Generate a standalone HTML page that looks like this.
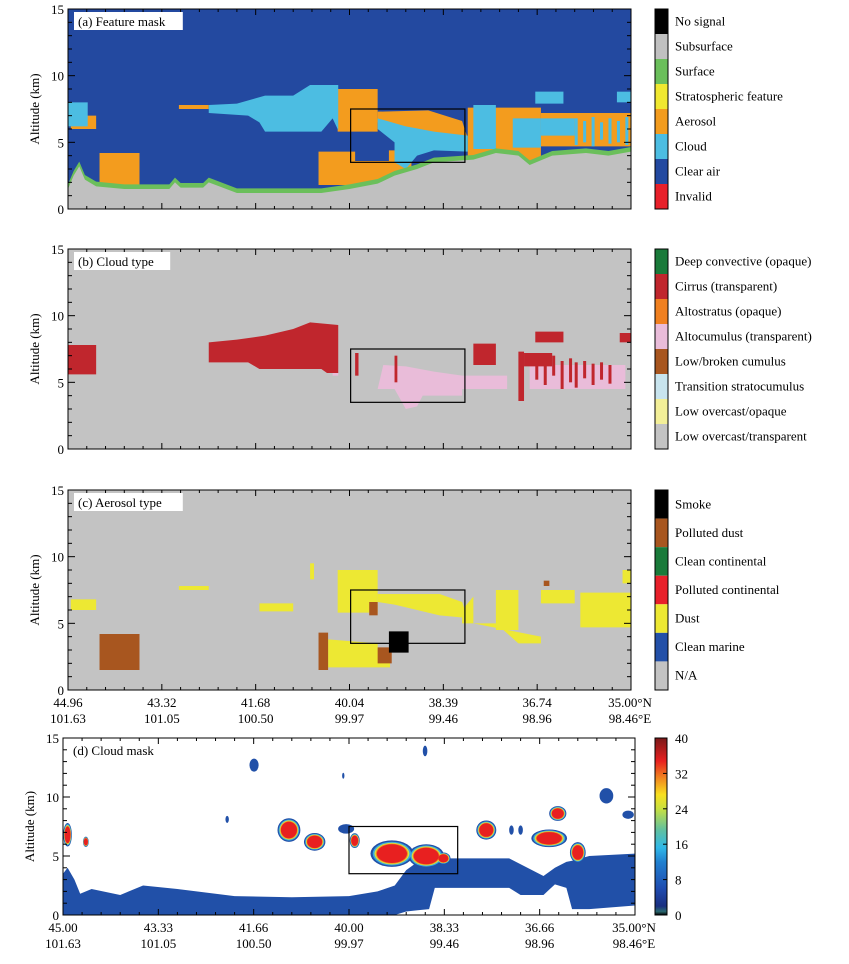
<!DOCTYPE html>
<html><head><meta charset="utf-8"><style>
body{margin:0;background:#fff;}
svg text{font-family:"Liberation Serif",serif;fill:#000;}
</style></head><body>
<svg id="fig" width="849" height="959" viewBox="0 0 849 959" xmlns="http://www.w3.org/2000/svg"></svg>
<script>
// ---------- data ----------
const altTicks = [0,5,10,15];
const latLabelsC = ["44.96","43.32","41.68","40.04","38.39","36.74","35.00°N"];
const lonLabels = ["101.63","101.05","100.50","99.97","99.46","98.96","98.46°E"];
const latLabelsD = ["45.00","43.33","41.66","40.00","38.33","36.66","35.00°N"];
// surface elevation (track fraction, km)
const surfX = [0,.01,.02,.03,.05,.1,.18,.19,.2,.24,.25,.3,.4,.45,.5,.55,.58,.62,.65,.72,.76,.8,.82,.86,.92,.96,1];
const surfH = [1.5,2.5,3.2,2.2,1.7,1.5,1.5,2.0,1.6,1.6,2.0,1.2,1.2,1.2,1.5,1.9,2.5,3.0,3.5,3.7,4.2,4.0,3.3,4.0,4.2,4.0,4.3];
// feature mask polygons [frac, km]
const aerosolA = [
 [[.005,6],[.05,6],[.05,7],[.005,7]],
 [[.056,1.4],[.127,1.4],[.127,4.2],[.056,4.2]],
 [[.197,7.5],[.25,7.5],[.25,7.8],[.197,7.8]],
 [[.479,5.8],[.55,5.8],[.55,9],[.479,9]],
 [[.445,1.8],[.572,1.8],[.572,3.6],[.51,3.6],[.51,4.3],[.445,4.3]],
 [[.57,1.7],[.61,1.7],[.61,4.4],[.57,4.4]],
 [[.55,7.3],[.64,7.4],[.7,6.6],[.71,5.3],[.66,5.6],[.58,6.2],[.55,6.5]],
 [[.71,3.4],[.84,3.4],[.84,7.6],[.71,7.6]],
 [[.84,4.7],[1,4.7],[1,7.2],[.84,7.2]]
];
const cloudA = [
 [[0,6.2],[.035,6.2],[.035,8],[0,8]],
 [[.25,7.2],[.32,7.0],[.34,6.5],[.35,5.8],[.45,5.8],[.47,6.8],[.48,5.9],[.48,9.3],[.43,9.3],[.4,8.5],[.35,8.5],[.3,7.9],[.25,7.8]],
 [[.55,6.8],[.6,6.2],[.65,5.8],[.71,5.5],[.71,4.3],[.65,4.4],[.62,4.0],[.6,3.0],[.58,3.5],[.58,5.0],[.55,6]],
 [[.72,4.5],[.76,4.5],[.76,7.8],[.72,7.8]],
 [[.79,4.6],[.84,4.6],[.84,6.8],[.79,6.8]],
 [[.84,5.5],[.9,5.5],[.9,6.8],[.84,6.8]],
 [[.83,7.9],[.88,7.9],[.88,8.8],[.83,8.8]],
 [[.975,8.0],[1,8.0],[1,8.8],[.975,8.8]]
];
// spikes in feature mask (cloud streaks in aerosol zone)
const spikeAx = [.9,.915,.93,.945,.96,.975,.99];
const spikeAtop = [6.8,6.6,6.9,6.5,6.8,6.6,6.9];
const spikeAbot = [4.8,5.0,4.7,5.2,4.9,5.0,4.8];
// cloud type polygons
const cirrusB = [
 [[0,5.6],[.05,5.6],[.05,7.8],[0,7.8]],
 [[.25,6.5],[.32,6.5],[.34,6.0],[.45,6.0],[.46,5.7],[.48,5.7],[.48,9.3],[.43,9.5],[.4,9.0],[.35,8.5],[.3,8.2],[.25,8.0]],
 [[.51,5.5],[.516,5.5],[.516,7.2],[.51,7.2]],
 [[.58,5.0],[.585,5.0],[.585,7.0],[.58,7.0]],
 [[.72,6.3],[.76,6.3],[.76,7.9],[.72,7.9]],
 [[.8,3.6],[.81,3.6],[.81,7.3],[.8,7.3]],
 [[.81,6.2],[.86,6.2],[.86,7.2],[.81,7.2]],
 [[.83,8.0],[.88,8.0],[.88,8.8],[.83,8.8]],
 [[.98,8.0],[1,8.0],[1,8.7],[.98,8.7]]
];
// cirrus streaks (panel b)
const streakBx = [.83,.845,.86,.875,.89,.9,.915,.93,.945,.96];
const streakBtop = [7.0,6.8,7.0,6.6,6.8,6.5,6.6,6.4,6.5,6.3];
const streakBbot = [5.2,4.8,5.5,4.5,5.0,4.6,5.3,4.8,5.2,4.9];
const altocuB = [
 [[.47,5.5],[.48,5.5],[.48,6.0],[.47,6.0]],
 [[.55,4.5],[.58,4.5],[.6,3.0],[.62,3.2],[.63,4.0],[.7,4.0],[.7,5.5],[.65,5.8],[.6,6.2],[.56,6.3]],
 [[.7,4.5],[.78,4.5],[.78,5.5],[.7,5.5]],
 [[.82,4.5],[.99,4.5],[.99,6.3],[.82,6.3]]
];
// aerosol type polygons
const dustC = [
 [[.005,6],[.05,6],[.05,6.8],[.005,6.8]],
 [[.197,7.5],[.25,7.5],[.25,7.8],[.197,7.8]],
 [[.34,5.9],[.4,5.9],[.4,6.5],[.34,6.5]],
 [[.43,8.3],[.437,8.3],[.437,9.5],[.43,9.5]],
 [[.479,5.8],[.55,5.8],[.55,9],[.479,9]],
 [[.462,1.7],[.572,1.7],[.572,3.0],[.55,3.0],[.55,3.5],[.462,3.8]],
 [[.55,7.2],[.66,7.2],[.7,6.6],[.71,5.4],[.66,5.6],[.62,6.0],[.58,6.4],[.55,6.6]],
 [[.7,6.0],[.72,7.0],[.72,5.0],[.84,4.0],[.84,3.5],[.8,3.5],[.76,5.0],[.7,5.0]],
 [[.76,4.5],[.8,4.5],[.8,7.5],[.76,7.5]],
 [[.84,6.5],[.9,6.5],[.9,7.5],[.84,7.5]],
 [[.91,4.7],[1,4.7],[1,7.3],[.91,7.3]],
 [[.985,8],[1,8],[1,9],[.985,9]]
];
const pdustC = [
 [[.056,1.5],[.127,1.5],[.127,4.2],[.056,4.2]],
 [[.445,1.5],[.462,1.5],[.462,4.3],[.445,4.3]],
 [[.535,5.6],[.55,5.6],[.55,6.6],[.535,6.6]],
 [[.55,2.0],[.575,2.0],[.575,3.2],[.55,3.2]],
 [[.845,7.8],[.855,7.8],[.855,8.2],[.845,8.2]]
];
const smokeC = [
 [[.57,2.8],[.605,2.8],[.605,4.4],[.57,4.4]]
];
// cloud mask: boundary layer top & bottom
const blX = [0,.008,.02,.03,.05,.1,.14,.2,.3,.4,.5,.55,.58,.6,.62,.64,.65,.7,.78,.8,.84,.86,.88,.89,.92,1];
const blTop = [3.5,4.0,3.0,1.8,2.2,1.7,2.5,2.2,1.6,1.5,1.6,2.0,2.5,3.8,4.5,4.6,4.8,4.8,4.8,4.3,3.3,4.0,4.5,4.6,5.0,5.2];
const blBot = [0,0,0,0,0,0,0,0,0,0,0,0,0,0.3,0.4,0.5,2.3,2.3,2.3,1.7,1.7,2.6,2.3,0.5,0.5,0.8];
// cloud mask blobs: x frac, altitude, half-width(frac), half-height(km)
const redX = [.008,.04,.395,.44,.51,.575,.635,.665,.74,.865,.85,.9];
const redAlt = [6.8,6.2,7.2,6.2,6.3,5.2,5.0,4.8,7.2,8.6,6.5,5.3];
const redW = [.006,.004,.016,.015,.007,.03,.025,.01,.014,.012,.025,.011];
const redH = [.8,.35,.8,.6,.5,.9,.8,.4,.65,.5,.6,.7];
const blueX = [.334,.633,.95,.988,.396,.495,.784,.287,.49,.8];
const blueAlt = [12.7,13.9,10.1,8.5,7.7,7.3,7.2,8.1,11.8,7.2];
const blueW = [.008,.004,.012,.01,.015,.014,.004,.003,.002,.004];
const blueH = [.55,.45,.65,.35,.4,.4,.4,.3,.25,.4];
const cbTicksD = [0,8,16,24,32,40];
const legA = ["No signal","Subsurface","Surface","Stratospheric feature","Aerosol","Cloud","Clear air","Invalid"];
const legAcol = ["#000000","#c0c0c0","#6bbf5b","#f0e830","#f39c1e","#4cbde2","#2349a0","#e8202a"];
const legB = ["Deep convective (opaque)","Cirrus (transparent)","Altostratus (opaque)","Altocumulus (transparent)","Low/broken cumulus","Transition stratocumulus","Low overcast/opaque","Low overcast/transparent"];
const legBcol = ["#1a7a3a","#c0262d","#f08020","#e9bcd9","#a8561f","#c8e4ee","#f3ef98","#c3c3c3"];
const legC = ["Smoke","Polluted dust","Clean continental","Polluted continental","Dust","Clean marine","N/A"];
const legCcol = ["#000000","#a8561f","#1a7a3a","#e8202a","#ede833","#2350a8","#c3c3c3"];

// ---------- drawing ----------
const NS="http://www.w3.org/2000/svg";
const svg=document.getElementById('fig');
function el(tag,attrs,parent){const e=document.createElementNS(NS,tag);for(const k in attrs)e.setAttribute(k,attrs[k]);(parent||svg).appendChild(e);return e;}
const P={
 a:{x0:68,x1:631,y0:9,y1:209},
 b:{x0:68,x1:631,y0:249,y1:449},
 c:{x0:68,x1:631,y0:490,y1:690},
 d:{x0:63,x1:635,y0:738,y1:915}
};
function sx(p,f){return p.x0+f*(p.x1-p.x0);}
function sy(p,a){return p.y1-a/15*(p.y1-p.y0);}
function poly(p,pts,fill,g,name){
 const e=el('polygon',{points:pts.map(q=>sx(p,q[0])+','+sy(p,q[1])).join(' '),fill:fill},g);
 
 
 return e;
}
function spikes(p,xs,tops,bots,col,g,name){
 xs.forEach((x,i)=>{
  const r=el('rect',{x:sx(p,x),y:sy(p,tops[i]),width:3,height:sy(p,bots[i])-sy(p,tops[i]),fill:col},g);
  
  
 });
}
function clip(id,p){const cp=el('clipPath',{id:id});el('rect',{x:p.x0,y:p.y0,width:p.x1-p.x0,height:p.y1-p.y0},cp);}
function frame(p,key,title,latLabels,showX){
 const g=el('g',{});
 
 
 el('rect',{x:p.x0,y:p.y0,width:p.x1-p.x0,height:p.y1-p.y0,fill:'none',stroke:'#000','stroke-width':1},g);
 for(let k=0;k<=15;k++){
  const y=sy(p,k),L=(k%5===0)?7:4;
  el('line',{x1:p.x0,x2:p.x0+L,y1:y,y2:y,stroke:'#000','stroke-width':1},g);
  el('line',{x1:p.x1,x2:p.x1-L,y1:y,y2:y,stroke:'#000','stroke-width':1},g);
 }
 altTicks.forEach(t=>{
  const tx=el('text',{x:p.x0-4,y:sy(p,t)+5,'text-anchor':'end','font-size':13},g);tx.textContent=t;
  
  
 });
 for(let k=0;k<=30;k++){
  const x=sx(p,k/30),L=(k%5===0)?6:3;
  el('line',{x1:x,x2:x,y1:p.y1,y2:p.y1-L,stroke:'#000','stroke-width':1},g);
  el('line',{x1:x,x2:x,y1:p.y0,y2:p.y0+L,stroke:'#000','stroke-width':1},g);
 }
 const yt=el('text',{x:0,y:0,transform:`translate(${p.x0-29},${(p.y0+p.y1)/2}) rotate(-90)`,'text-anchor':'middle','font-size':13},g);
 yt.textContent='Altitude (km)';
 
 
 if(key!=='d') el('rect',{x:p.x0+6,y:p.y0+3,width:title.length*6.3+8,height:18,fill:'#fff'},g);
 const tt=el('text',{x:p.x0+10,y:p.y0+17,'font-size':13},g);tt.textContent=title;
 
 
 if(showX){
  latLabels.forEach((l,i)=>{
   const x=sx(p,i/6)+(i===6?-1:0);
   const t1=el('text',{x:x,y:p.y1+17,'text-anchor':'middle','font-size':13},g);t1.textContent=l;
   
   
   const t2=el('text',{x:x,y:p.y1+33,'text-anchor':'middle','font-size':13},g);t2.textContent=lonLabels[i];
   
   
  });
 }
}
function box(p,g){
 const b=el('rect',{x:sx(p,.502),y:sy(p,7.5),width:sx(p,.705)-sx(p,.502),height:sy(p,3.5)-sy(p,7.5),fill:'none',stroke:'#000','stroke-width':1.2},g);
 
 
}
function legend(p,labels,cols,key){
 const g=el('g',{});
 
 
 const n=labels.length,h=(p.y1-p.y0)/n;
 labels.forEach((l,i)=>{
  const r=el('rect',{x:655,y:p.y0+i*h,width:13,height:h,fill:cols[i]},g);
  
  
  const t=el('text',{x:675,y:p.y0+i*h+h/2+4,'font-size':13},g);t.textContent=l;
  
  
 });
 el('rect',{x:655,y:p.y0,width:13,height:p.y1-p.y0,fill:'none',stroke:'#000','stroke-width':1},g);
}
// ---- panel a ----
(function(){
 const p=P.a;clip('ca',p);
 const g=el('g',{'clip-path':'url(#ca)'});
 
 
 el('rect',{x:p.x0,y:p.y0,width:p.x1-p.x0,height:p.y1-p.y0,fill:'#2349a0'},g);
 aerosolA.forEach(s=>poly(p,s,'#f39c1e',g,'aerosol-region'));
 cloudA.forEach(s=>poly(p,s,'#4cbde2',g,'cloud-region'));
 spikes(p,spikeAx,spikeAtop,spikeAbot,'#4cbde2',g,'cloud-streak');
 const green=surfX.map((x,i)=>[x,surfH[i]+0.35]).concat(surfX.map((x,i)=>[x,0]).reverse());
 poly(p,green,'#6bbf5b',g,'surface-layer');
 const gray=surfX.map((x,i)=>[x,surfH[i]]).concat([[1,0],[0,0]]);
 poly(p,gray,'#c0c0c0',g,'subsurface');
 box(p,g);
 frame(p,'a','(a) Feature mask',latLabelsC,false);
 legend(p,legA,legAcol,'feature-mask');
})();
// ---- panel b ----
(function(){
 const p=P.b;clip('cb',p);
 const g=el('g',{'clip-path':'url(#cb)'});
 
 
 el('rect',{x:p.x0,y:p.y0,width:p.x1-p.x0,height:p.y1-p.y0,fill:'#c3c3c3'},g);
 altocuB.forEach(s=>poly(p,s,'#e9bcd9',g,'altocumulus-region'));
 cirrusB.forEach(s=>poly(p,s,'#c0262d',g,'cirrus-region'));
 spikes(p,streakBx,streakBtop,streakBbot,'#c0262d',g,'cirrus-streak');
 box(p,g);
 frame(p,'b','(b) Cloud type',latLabelsC,false);
 legend(p,legB,legBcol,'cloud-type');
})();
// ---- panel c ----
(function(){
 const p=P.c;clip('cc',p);
 const g=el('g',{'clip-path':'url(#cc)'});
 
 
 el('rect',{x:p.x0,y:p.y0,width:p.x1-p.x0,height:p.y1-p.y0,fill:'#c3c3c3'},g);
 dustC.forEach(s=>poly(p,s,'#ede833',g,'dust-region'));
 pdustC.forEach(s=>poly(p,s,'#a8561f',g,'polluted-dust-region'));
 smokeC.forEach(s=>poly(p,s,'#000000',g,'smoke-region'));
 box(p,g);
 frame(p,'c','(c) Aerosol type',latLabelsC,true);
 legend(p,legC,legCcol,'aerosol-type');
})();
// ---- panel d ----
(function(){
 const p=P.d;clip('cd',p);
 const g=el('g',{'clip-path':'url(#cd)'});
 
 
 el('rect',{x:p.x0,y:p.y0,width:p.x1-p.x0,height:p.y1-p.y0,fill:'#fff'},g);
 const bl=blX.map((x,i)=>[x,blTop[i]]).concat(blX.map((x,i)=>[x,blBot[i]]).reverse());
 poly(p,bl,'#2150a8',g,'boundary-layer-mask');
 blueX.forEach((x,i)=>{
  const e=el('ellipse',{cx:sx(p,x),cy:sy(p,blueAlt[i]),rx:blueW[i]*(p.x1-p.x0),ry:blueH[i]*(p.y1-p.y0)/15,fill:'#2150a8'},g);
  
  
 });
 const layers=[[1.25,'#2150a8'],[1.12,'#38a8e0'],[1.02,'#d8e040'],[0.94,'#f08a20'],[0.88,'#e82020']];
 layers.forEach(L=>{
  redX.forEach((x,i)=>{
   const e=el('ellipse',{cx:sx(p,x),cy:sy(p,redAlt[i]),rx:L[0]*redW[i]*(p.x1-p.x0),ry:L[0]*redH[i]*(p.y1-p.y0)/15,fill:L[1]},g);
   
   
  });
 });
 const b=el('rect',{x:sx(p,.5),y:sy(p,7.5),width:sx(p,.69)-sx(p,.5),height:sy(p,3.5)-sy(p,7.5),fill:'none',stroke:'#000','stroke-width':1.2},g);
 
 
 frame(p,'d','(d) Cloud mask',latLabelsD,true);
 // colorbar
 const defs=el('defs',{});
 const lg=el('linearGradient',{id:'jet',x1:0,y1:1,x2:0,y2:0},defs);
 [[0,'#000'],[.02,'#2a6a70'],[.05,'#1a2f80'],[.15,'#1f4cb0'],[.3,'#2080d0'],[.38,'#30b8e8'],[.48,'#60c0a0'],[.6,'#c8e040'],[.68,'#f8e020'],[.78,'#f08020'],[.87,'#e82020'],[1,'#7a1a1a']].forEach(s=>el('stop',{offset:s[0],'stop-color':s[1]},lg));
 const cg=el('g',{});
 
 
 el('rect',{x:655,y:p.y0,width:12,height:p.y1-p.y0,fill:'url(#jet)',stroke:'#000','stroke-width':1},cg);
 cbTicksD.forEach(t=>{
  const y=p.y1-t/40*(p.y1-p.y0);
  el('line',{x1:663,x2:667,y1:y,y2:y,stroke:'#000'},cg);
  const tx=el('text',{x:675,y:y+5,'font-size':13},cg);tx.textContent=t;
  
  
 });
})();
</script>
</body></html>
